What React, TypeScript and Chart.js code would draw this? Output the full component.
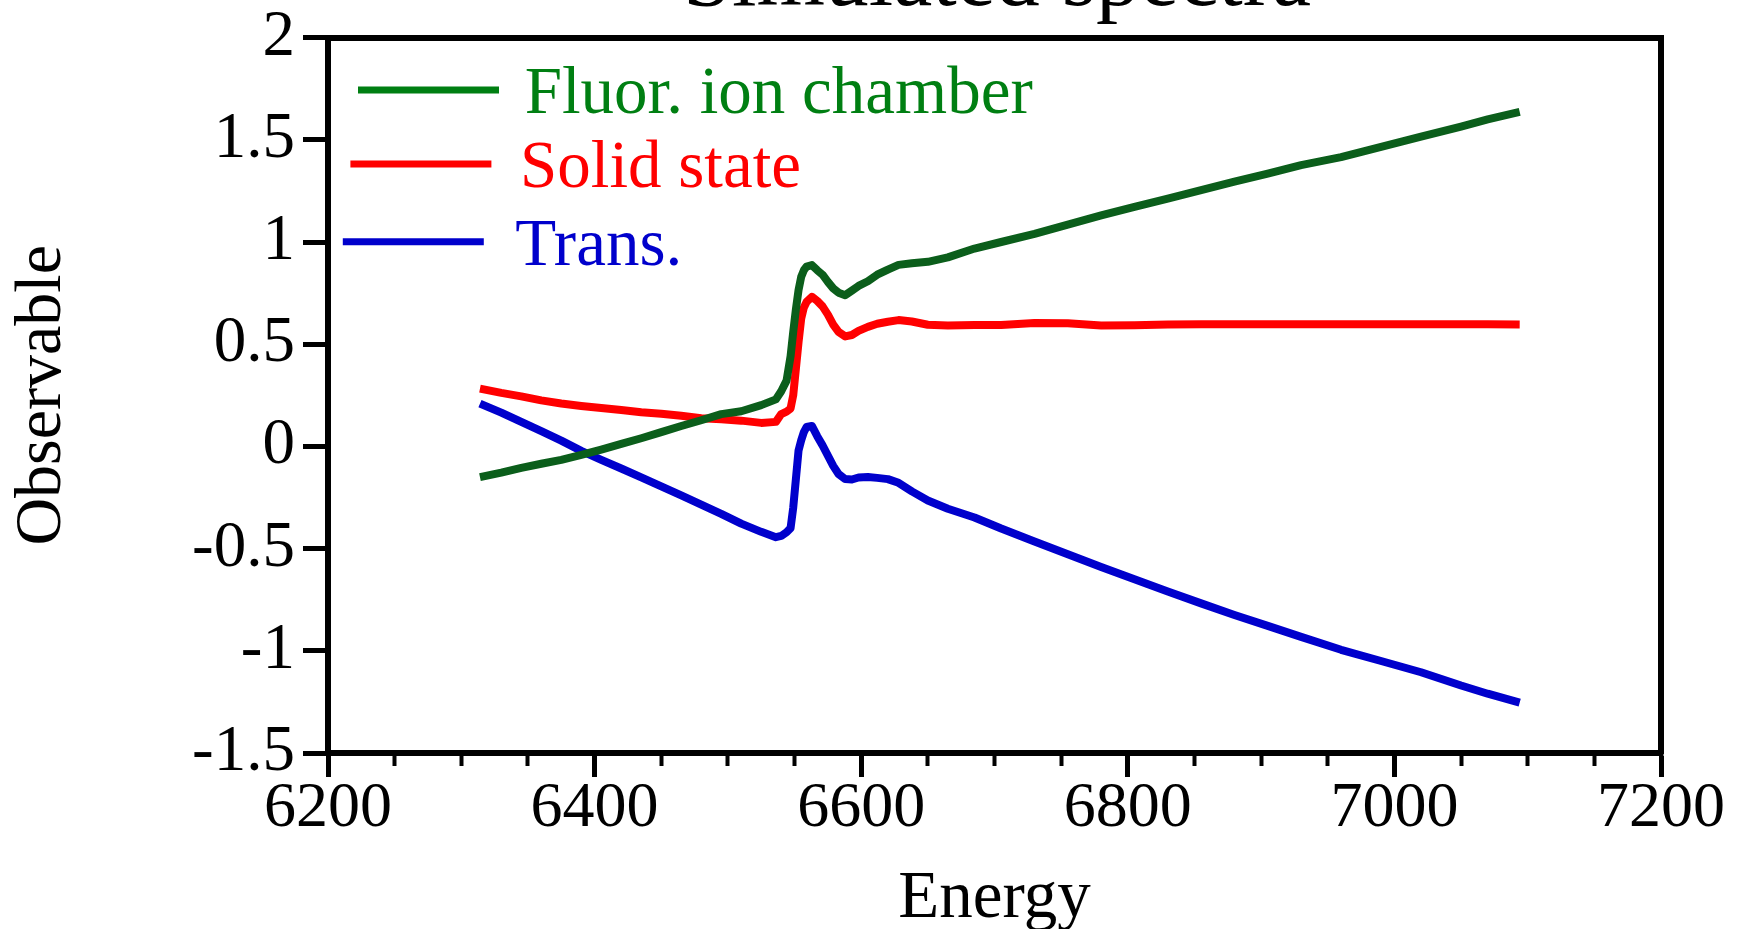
import React, { useEffect, useRef } from "react";
import { Chart, registerables } from "chart.js";

Chart.register(...registerables);

// ---------- data ----------
const energy = [
  6314, 6330, 6345, 6360, 6375, 6390, 6405, 6420, 6435, 6450, 6465, 6480, 6495, 6510, 6525,
  6536, 6540, 6544, 6547, 6549, 6551, 6553, 6555, 6557, 6559, 6563, 6567, 6571, 6575, 6579,
  6583, 6588, 6593, 6598, 6605, 6612, 6620, 6628, 6638, 6650, 6665, 6685, 6705, 6730, 6755,
  6780, 6805, 6830, 6855, 6880, 6905, 6930, 6960, 6990, 7020, 7050, 7070, 7094,
];

const fluorValues = [
  -0.15, -0.128, -0.105, -0.085, -0.066, -0.042, -0.016, 0.012, 0.04, 0.07, 0.1, 0.128, 0.158, 0.172, 0.202,
  0.23, 0.27, 0.322, 0.44, 0.56, 0.67, 0.765, 0.83, 0.862, 0.88, 0.887, 0.862, 0.84, 0.805, 0.773,
  0.752, 0.74, 0.762, 0.785, 0.808, 0.84, 0.865, 0.888, 0.896, 0.903, 0.925, 0.968, 1.0, 1.04, 1.085,
  1.13, 1.172, 1.212, 1.254, 1.295, 1.335, 1.376, 1.415, 1.465, 1.515, 1.565, 1.6, 1.637,
];

const solidValues = [
  0.283, 0.262, 0.245, 0.225, 0.21, 0.198, 0.188, 0.178, 0.167, 0.16, 0.15, 0.138, 0.133, 0.126, 0.115,
  0.12, 0.158, 0.17, 0.185, 0.25, 0.38, 0.51, 0.625, 0.68, 0.707, 0.732, 0.712, 0.685, 0.645, 0.596,
  0.56, 0.538, 0.545, 0.565, 0.585, 0.6, 0.61, 0.618, 0.611, 0.595, 0.591, 0.594, 0.594, 0.604, 0.603,
  0.592, 0.593, 0.596, 0.597, 0.597, 0.597, 0.597, 0.597, 0.597, 0.597, 0.597, 0.597, 0.596,
];

const transValues = [
  0.209, 0.165, 0.12, 0.075, 0.028, -0.022, -0.066, -0.108, -0.152, -0.196, -0.24, -0.285, -0.33, -0.378, -0.418,
  -0.444, -0.438, -0.42, -0.4, -0.3, -0.16, -0.02, 0.03, 0.07, 0.095, 0.1, 0.05, 0.005, -0.045, -0.095,
  -0.135, -0.16, -0.162, -0.152, -0.15, -0.154, -0.16, -0.178, -0.22, -0.265, -0.305, -0.348, -0.402, -0.465, -0.528,
  -0.59, -0.65, -0.71, -0.768, -0.825, -0.878, -0.932, -0.995, -1.05, -1.105, -1.17, -1.21, -1.254,
];

const seriesLabels = ["Fluor. ion chamber", "Solid state", "Trans."];
const seriesValues = [fluorValues, solidValues, transValues];
const lineColors = ["#0b5e1b", "#ff0000", "#0000cc"];
const legendColors = ["#007f12", "#ff0000", "#0000cc"];

const chartTitle = "Simulated spectra";
const xAxisTitle = "Energy";
const yAxisTitle = "Observable";
const xRange = [6200, 7200];
const yRange = [-1.5, 2];
const xMajorStep = 200;
const xMinorStep = 50;
const yStep = 0.5;

const SERIF = '"Liberation Serif", "Times New Roman", serif';

// legend drawn inside the plot area
const insideLegend = {
  id: "insideLegend",
  afterDatasetsDraw(chart: any, _args: any, opts: any) {
    const { ctx, chartArea } = chart;
    ctx.save();
    chart.data.datasets.forEach((ds: any, i: number) => {
      const y = chartArea.top + opts.top + opts.rowGap[i];
      const x0 = chartArea.left + opts.lineStart - opts.lineShift * i;
      ctx.strokeStyle = opts.colors[i];
      ctx.lineWidth = opts.lineWidth;
      ctx.lineCap = "butt";
      ctx.beginPath();
      ctx.moveTo(x0, y);
      ctx.lineTo(x0 + opts.lineLength, y);
      ctx.stroke();
      ctx.fillStyle = opts.colors[i];
      ctx.font = `${opts.fontSize}px ${SERIF}`;
      ctx.textAlign = "left";
      ctx.textBaseline = "alphabetic";
      ctx.fillText(ds.label, chartArea.left + opts.textStart - opts.textShift * i, y + opts.baselineOffset);
    });
    ctx.restore();
  },
};

export default function App() {
  const ref = useRef<HTMLCanvasElement | null>(null);

  useEffect(() => {
    if (!ref.current) return;
    const datasets = seriesLabels.map((label, i) => ({
      label,
      data: energy.map((e, k) => ({ x: e, y: seriesValues[i][k] })),
      borderColor: lineColors[i],
      backgroundColor: lineColors[i],
      borderWidth: 8,
      pointRadius: 0,
      tension: 0,
      fill: false,
      borderJoinStyle: "round" as const,
      borderCapStyle: "butt" as const,
      xAxisID: "x",
      yAxisID: "y",
    }));

    const chart = new Chart(ref.current, {
      type: "line",
      data: { datasets },
      plugins: [insideLegend],
      options: {
        animation: false,
        responsive: false,
        events: [],
        layout: { padding: 0 },
        plugins: {
          legend: { display: false },
          tooltip: { enabled: false },
          title: {
            display: true,
            text: chartTitle,
            color: "#000",
            font: { family: SERIF, size: 88, weight: "normal", lineHeight: 1.2 },
            padding: { top: 9, bottom: 3 },
          },
          insideLegend: {
            top: 52.5,
            rowGap: [0, 74, 151.7],
            lineStart: 30,
            lineShift: 7.6,
            lineLength: 141,
            lineWidth: 7,
            textStart: 196.7,
            textShift: 4.7,
            baselineOffset: 23,
            fontSize: 67,
            colors: legendColors,
          },
        } as any,
        scales: {
          x: {
            type: "linear",
            position: "bottom",
            weight: 1,
            min: xRange[0],
            max: xRange[1],
            ticks: {
              stepSize: xMajorStep,
              autoSkip: false,
              maxRotation: 0,
              color: "#000",
              padding: 0,
              font: { family: SERIF, size: 64, lineHeight: 1 },
              callback: (v: any) => String(v),
            },
            grid: { drawOnChartArea: false, drawTicks: true, tickLength: 24, tickWidth: 5, tickColor: "#000" },
            border: { display: true, color: "#000", width: 6 },
            title: {
              display: true,
              text: xAxisTitle,
              color: "#000",
              font: { family: SERIF, size: 67, lineHeight: 1.2 },
              padding: 0,
            },
            afterFit: (s: any) => {
              s.height = 187;
            },
          },
          xMinor: {
            type: "linear",
            position: "bottom",
            weight: 0,
            min: xRange[0],
            max: xRange[1],
            ticks: { stepSize: xMinorStep, display: false, autoSkip: false },
            grid: { drawOnChartArea: false, drawTicks: true, tickLength: 13, tickWidth: 4, tickColor: "#000" },
            border: { display: false },
            afterFit: (s: any) => {
              s.height = 0;
            },
          },
          xTop: {
            type: "linear",
            position: "top",
            min: xRange[0],
            max: xRange[1],
            ticks: { display: false },
            grid: { display: false, drawTicks: false },
            border: { display: true, color: "#000", width: 6 },
            afterFit: (s: any) => {
              s.height = 0;
            },
          },
          y: {
            type: "linear",
            position: "left",
            min: yRange[0],
            max: yRange[1],
            ticks: {
              stepSize: yStep,
              color: "#000",
              padding: 8,
              font: { family: SERIF, size: 65, lineHeight: 1 },
              callback: (v: any) => String(v),
            },
            grid: { drawOnChartArea: false, drawTicks: true, tickLength: 25, tickWidth: 5, tickColor: "#000" },
            border: { display: true, color: "#000", width: 6 },
            title: {
              display: true,
              text: yAxisTitle,
              color: "#000",
              font: { family: SERIF, size: 66, lineHeight: 1.2 },
              padding: { top: 3 },
            },
            afterFit: (s: any) => {
              s.width = 328;
            },
          },
          yRight: {
            type: "linear",
            position: "right",
            min: yRange[0],
            max: yRange[1],
            ticks: { display: false },
            grid: { display: false, drawTicks: false },
            border: { display: true, color: "#000", width: 6 },
            afterFit: (s: any) => {
              s.width = 333;
            },
          },
        } as any,
      },
    });
    return () => chart.destroy();
  }, []);

  return (
    <div
      style={{
        position: "fixed",
        left: 0,
        top: 0,
        width: 1744,
        height: 929,
        overflow: "hidden",
        background: "#fff",
      }}
    >
      <div style={{ position: "absolute", left: 0, top: -80, width: 1994, height: 1020 }}>
        <canvas ref={ref} width={1994} height={1020} style={{ display: "block" }} />
      </div>
    </div>
  );
}
